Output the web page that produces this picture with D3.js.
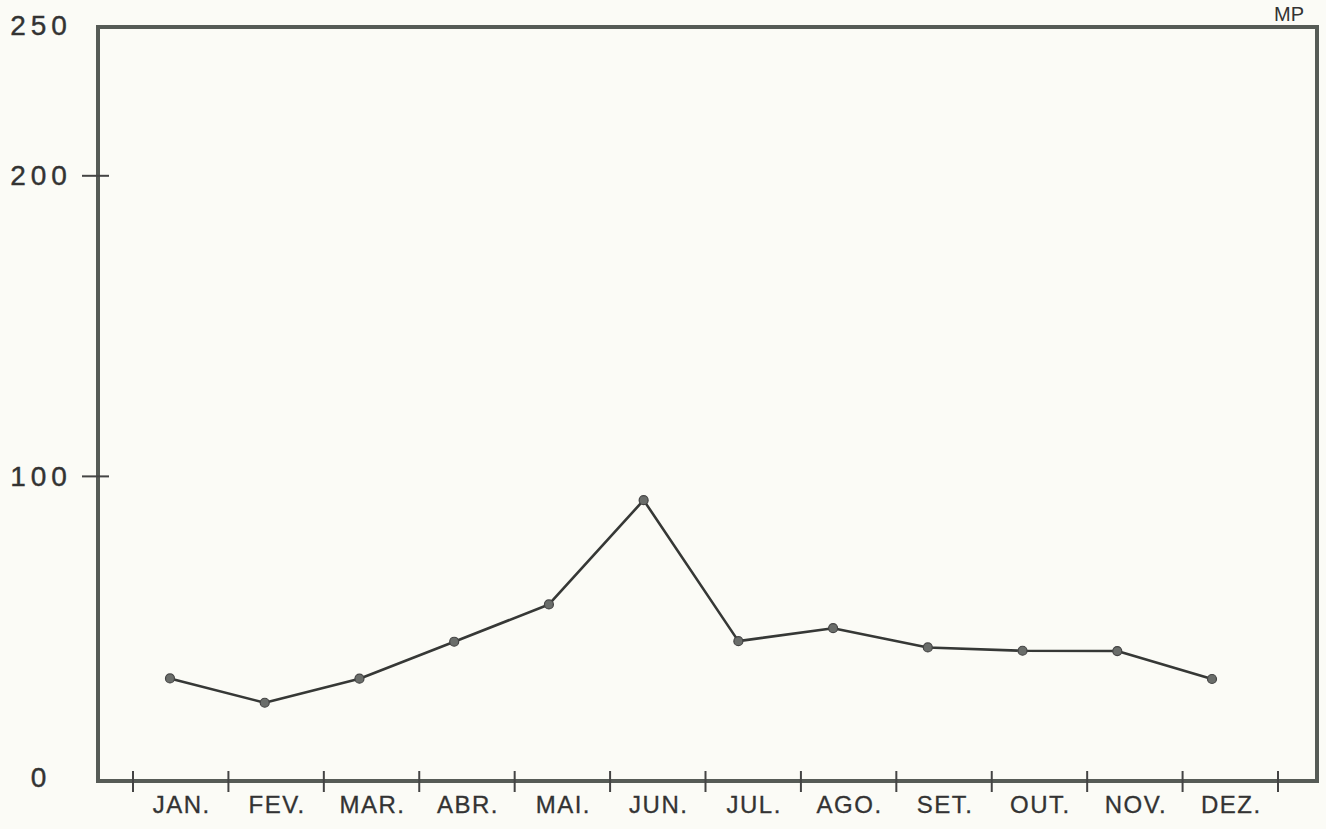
<!DOCTYPE html>
<html>
<head>
<meta charset="utf-8">
<script src="https://cdn.jsdelivr.net/npm/d3@7"></script>
<style>
  html, body { margin: 0; padding: 0; background: #fbfbf6; }
  svg { display: block; }
  text { font-family: "Liberation Sans", "DejaVu Sans", sans-serif; fill: #333; }
</style>
</head>
<body>
<script>
// ---- data ----
const months = ["JAN.", "FEV.", "MAR.", "ABR.", "MAI.", "JUN.", "JUL.", "AGO.", "SET.", "OUT.", "NOV.", "DEZ."];
const values = [32.8, 24.7, 32.7, 45.0, 57.4, 92.1, 45.2, 49.5, 43.1, 42.0, 41.9, 32.6];
const yTickLabels = [0, 100, 200, 250];
const yTickMarks = [100, 200];
const unitLabel = "MP";

// ---- layout ----
const W = 1326, H = 829;
const frame = { left: 98, right: 1317, top: 27, bottom: 781 };

const svg = d3.select("body").append("svg").attr("width", W).attr("height", H);
svg.append("rect").attr("width", W).attr("height", H).attr("fill", "#fbfbf6");

const y = d3.scaleLinear().domain([0, 250]).range([777, 25.5]);
const xBand = d3.scaleBand().domain(months).range([133, 1278]).padding(0);
const xPt = d3.scalePoint().domain(months).range([170, 1212]);

// frame
svg.append("rect")
  .attr("x", frame.left).attr("y", frame.top)
  .attr("width", frame.right - frame.left).attr("height", frame.bottom - frame.top)
  .attr("fill", "none").attr("stroke", "#565b56").attr("stroke-width", 4);

// y tick crosses
svg.selectAll(".ytick").data(yTickMarks).enter().append("line")
  .attr("x1", frame.left - 16).attr("x2", frame.left + 11)
  .attr("y1", d => y(d)).attr("y2", d => y(d))
  .attr("stroke", "#444").attr("stroke-width", 2);

// y labels
svg.selectAll(".ylab").data(yTickLabels).enter().append("text")
  .attr("x", 41).attr("y", d => y(d))
  .attr("text-anchor", "middle").attr("dominant-baseline", "central")
  .attr("font-size", 28).attr("letter-spacing", "5px")
  .attr("stroke", "#333").attr("stroke-width", 0.4)
  .text(d => String(d));

// x tick marks at band boundaries
const boundaries = months.map(m => xBand(m)).concat([xBand.range()[1]]);
svg.selectAll(".xtick").data(boundaries).enter().append("line")
  .attr("x1", d => d).attr("x2", d => d)
  .attr("y1", frame.bottom - 10).attr("y2", frame.bottom + 11)
  .attr("stroke", "#444").attr("stroke-width", 2);

// month labels
svg.selectAll(".xlab").data(months).enter().append("text")
  .attr("x", d => xBand(d) + xBand.bandwidth() / 2 + 1)
  .attr("y", 813)
  .attr("text-anchor", "middle")
  .attr("font-size", 24).attr("letter-spacing", "1.5px")
  .attr("stroke", "#333").attr("stroke-width", 0.3)
  .text(d => d);

// unit label
svg.append("text").attr("x", 1274).attr("y", 21)
  .attr("font-size", 20).text(unitLabel);

// line
const line = d3.line().x((d, i) => xPt(months[i])).y(d => y(d));
svg.append("path").datum(values)
  .attr("d", line).attr("fill", "none")
  .attr("stroke", "#363836").attr("stroke-width", 2.6).attr("stroke-linejoin", "round");

// points
svg.selectAll(".pt").data(values).enter().append("circle")
  .attr("cx", (d, i) => xPt(months[i])).attr("cy", d => y(d))
  .attr("r", 4.5).attr("fill", "#6a6d6a").attr("stroke", "#444").attr("stroke-width", 1.2);
</script>
</body>
</html>
